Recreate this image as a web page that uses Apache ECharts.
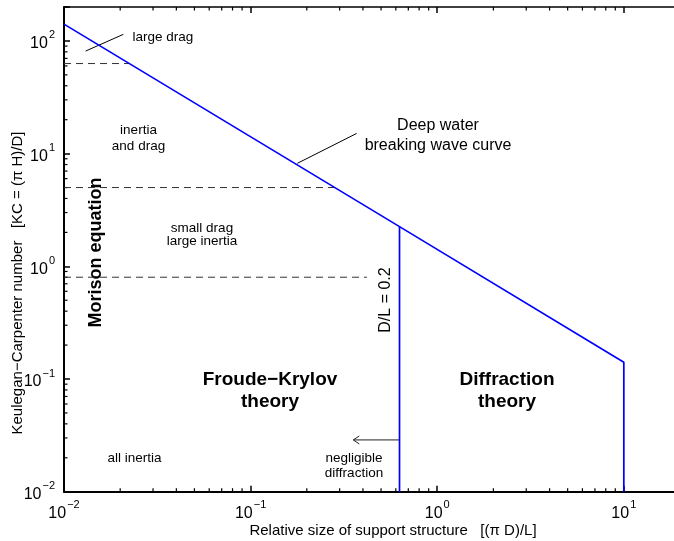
<!DOCTYPE html>
<html>
<head>
<meta charset="utf-8">
<script src="https://cdn.jsdelivr.net/npm/echarts@6/dist/echarts.min.js"></script>
<style>
  html, body { margin: 0; padding: 0; background: #fff; }
  #chart { width: 674px; height: 541px; }
</style>
</head>
<body>
<div id="chart"></div>
<script>
const FONT = '"Liberation Sans", Arial, Helvetica, sans-serif';

// Axis ranges (log-log)
const xRange = [0.01, 20];
const yRange = [0.01, 200];
const xTickExponents = [-2, -1, 0, 1];
const yTickExponents = [-2, -1, 0, 1, 2];
const minorMultipliers = [2, 3, 4, 5, 6, 7, 8, 9];
const xDecades = [0.01, 0.1, 1, 10];
const yDecades = [0.01, 0.1, 1, 10, 100];

// Deep water breaking wave curve, continued down the D/L cut-off at the right
const breakingX = [0.01, 0.628, 10, 10];
const breakingKC = [141, 2.25, 0.141, 0.01];
// D/L = 0.2 boundary
const dlLimitX = [0.628, 0.628];
const dlLimitKC = [2.25, 0.01];

// Morison sub-region boundaries (KC level and where each dashed line stops)
const regionKC = [63, 5, 0.8];
const regionEndX = [0.0224, 0.282, 0.42];

// Leader lines and the "negligible diffraction" arrow
const dragLeaderX = [0.01306, 0.0208];
const dragLeaderKC = [81.3, 114.4];
const curveLeaderX = [0.178, 0.370];
const curveLeaderKC = [8.2, 15.1];
const arrowX = [0.628, 0.355];
const arrowKC = [0.0288, 0.0288];

const pairs = (xs, ys) => xs.map((x, i) => [x, ys[i]]);

const within = (v, r) => v >= r[0] * 0.999 && v <= r[1] * 1.001;
const xMinor = [];
xDecades.forEach(d => minorMultipliers.forEach(m => { if (within(d * m, xRange)) xMinor.push(d * m); }));
const yMinor = [];
yDecades.forEach(d => minorMultipliers.forEach(m => { if (within(d * m, yRange)) yMinor.push(d * m); }));

const MINOR_LEN = 3.5;
const TICK_COLOR = '#000';

function powerLabel(exps) {
  return function (v) {
    const e = Math.round(Math.log10(v));
    if (Math.abs(Math.log10(v) - e) > 1e-6 || exps.indexOf(e) < 0) return '';
    const s = e < 0 ? '\u2212' + Math.abs(e) : String(e);
    return '{b|10}{s|' + s + '}';
  };
}

const labelRich = {
  b: { fontFamily: FONT, fontSize: 16, color: '#000', lineHeight: 22, verticalAlign: 'bottom' },
  s: { fontFamily: FONT, fontSize: 11, color: '#000', lineHeight: 11, verticalAlign: 'top', padding: [0, 0, 0, 1] }
};

const chart = echarts.init(document.getElementById('chart'), null, { renderer: 'canvas' });

function lineSeries(data, color, width, type) {
  return {
    type: 'line', data: data, showSymbol: false, symbol: 'none', silent: true,
    animation: false, clip: false,
    lineStyle: { color: color, width: width, type: type || 'solid' }, z: 3
  };
}

const option = {
  animation: false,
  backgroundColor: '#fff',
  grid: { left: 64, top: 7, width: 616, height: 484.7, containLabel: false, outerBoundsMode: 'none' },
  xAxis: [{
    type: 'log', logBase: 10, min: xRange[0], max: xRange[1], position: 'bottom',
    axisLine: { show: true, lineStyle: { color: '#000', width: 2 } },
    axisTick: { show: true, inside: true, length: 6, lineStyle: { color: TICK_COLOR, width: 1.5 } },
    axisLabel: { formatter: powerLabel(xTickExponents), rich: labelRich, margin: 8 },
    splitLine: { show: false }, minorTick: { show: false }
  }, {
    type: 'log', logBase: 10, min: xRange[0], max: xRange[1], position: 'top',
    axisLine: { show: true, lineStyle: { color: '#000', width: 1.5 } },
    axisTick: { show: true, inside: true, length: 6, lineStyle: { color: TICK_COLOR, width: 1.5 } },
    axisLabel: { show: false }, splitLine: { show: false }
  }],
  yAxis: [{
    type: 'log', logBase: 10, min: yRange[0], max: yRange[1], position: 'left',
    axisLine: { show: true, lineStyle: { color: '#000', width: 2 } },
    axisTick: { show: true, inside: true, length: 6, lineStyle: { color: TICK_COLOR, width: 1.5 } },
    axisLabel: { formatter: powerLabel(yTickExponents), rich: labelRich, margin: 9 },
    splitLine: { show: false }
  }],
  series: [
    // minor ticks along bottom and top edges
    {
      type: 'custom', silent: true, clip: false, animation: false, z: 2,
      data: xMinor.map(v => [v, yRange[0]]),
      renderItem: function (params, api) {
        const v = api.value(0);
        const b = api.coord([v, yRange[0]]);
        const t = api.coord([v, yRange[1]]);
        const st = { stroke: TICK_COLOR, lineWidth: 1.2 };
        return { type: 'group', children: [
          { type: 'line', shape: { x1: b[0], y1: b[1], x2: b[0], y2: b[1] - MINOR_LEN }, style: st },
          { type: 'line', shape: { x1: t[0], y1: t[1], x2: t[0], y2: t[1] + MINOR_LEN }, style: st }
        ] };
      }
    },
    // minor ticks along the left edge
    {
      type: 'custom', silent: true, clip: false, animation: false, z: 2,
      data: yMinor.map(v => [xRange[0], v]),
      renderItem: function (params, api) {
        const v = api.value(1);
        const l = api.coord([xRange[0], v]);
        const st = { stroke: TICK_COLOR, lineWidth: 1.2 };
        return { type: 'line', shape: { x1: l[0], y1: l[1], x2: l[0] + MINOR_LEN, y2: l[1] }, style: st };
      }
    },
    // Morison sub-region boundaries
    ...regionKC.map((kc, i) => lineSeries([[xRange[0], kc], [regionEndX[i], kc]], '#333', 1, [7, 5])),
    // leader lines
    lineSeries(pairs(dragLeaderX, dragLeaderKC), '#000', 1),
    lineSeries(pairs(curveLeaderX, curveLeaderKC), '#000', 1),
    // arrow shaft + head
    {
      type: 'custom', silent: true, clip: false, animation: false, z: 3,
      data: [[arrowX[0], arrowKC[0], arrowX[1], arrowKC[1]]],
      renderItem: function (params, api) {
        const a = api.coord([api.value(0), api.value(1)]);
        const b = api.coord([api.value(2), api.value(3)]);
        const st = { stroke: '#222', lineWidth: 1, fill: null };
        return { type: 'group', children: [
          { type: 'line', shape: { x1: a[0], y1: a[1], x2: b[0], y2: b[1] }, style: st },
          { type: 'polyline', shape: { points: [[b[0] + 6, b[1] - 4], [b[0], b[1]], [b[0] + 6, b[1] + 4]] }, style: st }
        ] };
      }
    },
    // breaking wave curve and the diffraction boundaries
    Object.assign(lineSeries(pairs(breakingX, breakingKC), '#0000ff', 1.7), { z: 5 }),
    Object.assign(lineSeries(pairs(dlLimitX, dlLimitKC), '#0000ff', 1.7), { z: 5 })
  ],
  graphic: [
    { type: 'text', x: 18, y: 283, rotation: Math.PI / 2,
      style: { text: 'Keulegan\u2212Carpenter number   [KC = (\u03c0 H)/D]', font: '15px ' + FONT, fill: '#000', textAlign: 'center', textVerticalAlign: 'middle' } },
    { type: 'text', x: 393, y: 531,
      style: { text: 'Relative size of support structure   [(\u03c0 D)/L]', font: '15px ' + FONT, fill: '#000', textAlign: 'center', textVerticalAlign: 'middle' } },
    { type: 'text', x: 132.5, y: 37,
      style: { text: 'large drag', font: '13.5px ' + FONT, fill: '#000', textAlign: 'left', textVerticalAlign: 'middle' } },
    { type: 'text', x: 138.5, y: 138.5,
      style: { text: 'inertia\nand drag', font: '13.5px ' + FONT, lineHeight: 15.5, fill: '#000', textAlign: 'center', textVerticalAlign: 'middle' } },
    { type: 'text', x: 202, y: 235,
      style: { text: 'small drag\nlarge inertia', font: '13.5px ' + FONT, lineHeight: 13.5, fill: '#000', textAlign: 'center', textVerticalAlign: 'middle' } },
    { type: 'text', x: 438, y: 136,
      style: { text: 'Deep water\nbreaking wave curve', font: '16px ' + FONT, lineHeight: 20, fill: '#000', textAlign: 'center', textVerticalAlign: 'middle' } },
    { type: 'text', x: 96, y: 252.5, rotation: Math.PI / 2,
      style: { text: 'Morison equation', font: 'bold 18px ' + FONT, fill: '#000', textAlign: 'center', textVerticalAlign: 'middle' } },
    { type: 'text', x: 386, y: 300, rotation: Math.PI / 2,
      style: { text: 'D/L = 0.2', font: '16px ' + FONT, fill: '#000', textAlign: 'center', textVerticalAlign: 'middle' } },
    { type: 'text', x: 270, y: 391,
      style: { text: 'Froude\u2212Krylov\ntheory', font: 'bold 19px ' + FONT, lineHeight: 21.5, fill: '#000', textAlign: 'center', textVerticalAlign: 'middle' } },
    { type: 'text', x: 507, y: 391,
      style: { text: 'Diffraction\ntheory', font: 'bold 19px ' + FONT, lineHeight: 21.5, fill: '#000', textAlign: 'center', textVerticalAlign: 'middle' } },
    { type: 'text', x: 134.5, y: 458.5,
      style: { text: 'all inertia', font: '13.5px ' + FONT, fill: '#000', textAlign: 'center', textVerticalAlign: 'middle' } },
    { type: 'text', x: 354, y: 466,
      style: { text: 'negligible\ndiffraction', font: '13.5px ' + FONT, lineHeight: 15, fill: '#000', textAlign: 'center', textVerticalAlign: 'middle' } }
  ]
};

chart.setOption(option);
</script>
</body>
</html>
